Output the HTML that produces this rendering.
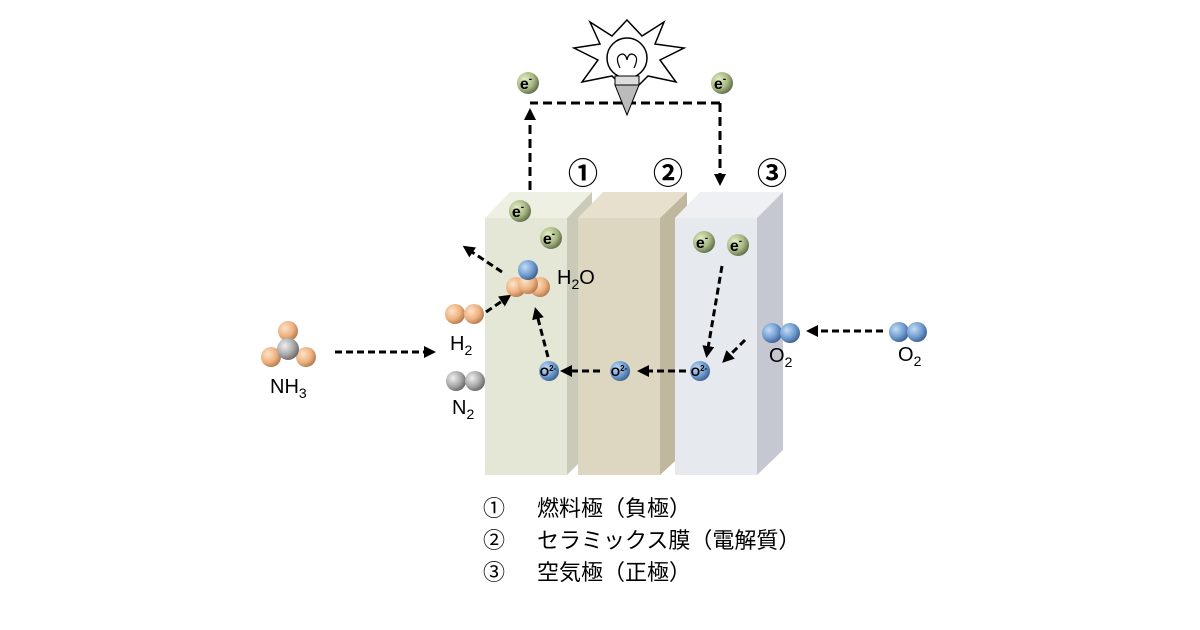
<!DOCTYPE html>
<html><head><meta charset="utf-8"><style>
html,body{margin:0;padding:0;background:#fff;width:1200px;height:630px;overflow:hidden}
svg{display:block}
text{font-family:"Liberation Sans","Noto Sans CJK JP",sans-serif}
</style></head><body>
<svg width="1200" height="630" viewBox="0 0 1200 630" xmlns="http://www.w3.org/2000/svg">
<defs>
<radialGradient id="ge" cx="0.35" cy="0.35" r="0.7"><stop offset="0" stop-color="#e8efc8"/><stop offset="0.6" stop-color="#a7b884"/><stop offset="1" stop-color="#5f6b45"/></radialGradient>
<radialGradient id="gb" cx="0.35" cy="0.35" r="0.7"><stop offset="0" stop-color="#c4dcf5"/><stop offset="0.6" stop-color="#6f9bd0"/><stop offset="1" stop-color="#3c5f8c"/></radialGradient>
<radialGradient id="go" cx="0.35" cy="0.35" r="0.7"><stop offset="0" stop-color="#fde3c8"/><stop offset="0.6" stop-color="#eeb17f"/><stop offset="1" stop-color="#b27a4e"/></radialGradient>
<radialGradient id="gg" cx="0.35" cy="0.35" r="0.7"><stop offset="0" stop-color="#f0f0f0"/><stop offset="0.6" stop-color="#a8a8a8"/><stop offset="1" stop-color="#666"/></radialGradient>
<marker id="ah" markerWidth="12" markerHeight="12" refX="8" refY="6" orient="auto" markerUnits="userSpaceOnUse"><path d="M0,0 L12,6 L0,12 Z" fill="#000"/></marker>
</defs>
<!-- slabs -->
<polygon points="485,218 510,192 592,192 567,218" fill="#eef0e4"/>
<polygon points="567,218 592,192 592,450 567,475" fill="#c9cbb8"/>
<rect x="485" y="218" width="82" height="257" fill="#e4e6d6"/>
<polygon points="578,218 603,192 687,192 660,218" fill="#e6e0cc"/>
<polygon points="660,218 687,192 687,450 660,475" fill="#bfb89f"/>
<rect x="578" y="218" width="82" height="257" fill="#ddd6c0"/>
<polygon points="675,218 700,192 783,192 757,218" fill="#eef0f3"/>
<polygon points="757,218 783,192 783,450 757,475" fill="#c5c8d0"/>
<rect x="675" y="218" width="82" height="257" fill="#e6e9ee"/>
<!-- circled numbers -->
<text x="583" y="184" font-size="30" text-anchor="middle" font-weight="bold">①</text>
<text x="668" y="184" font-size="30" text-anchor="middle" font-weight="bold">②</text>
<text x="772" y="184" font-size="30" text-anchor="middle" font-weight="bold">③</text>
<!-- circuit -->
<g stroke="#000" stroke-width="3" stroke-dasharray="9,5" fill="none">
<path d="M720,103 L530,103"/>
<path d="M530,190 L530,112" marker-end="url(#ah)"/>
<path d="M720,103 L720,182" marker-end="url(#ah)"/>
</g>
<!-- bulb -->
<polygon points="627,20 642,36 664,22 655,44 684,48 660,60 676,82 648,76 630,94 612,76 582,82 598,60 574,48 600,44 590,22 612,36" fill="#fff" stroke="#000" stroke-width="1.5"/>
<circle cx="627" cy="58" r="20" fill="#fff" stroke="#000" stroke-width="1.5"/>
<path d="M620,68 q-6,-12 2,-14 q4,0 5,6 q1,-6 5,-6 q8,2 2,14" fill="none" stroke="#000" stroke-width="1.2"/>
<rect x="615" y="76" width="24" height="9" fill="#ddd" stroke="#000"/>
<polygon points="615,85 639,85 627,115" fill="#bbb" stroke="#000"/>
<!-- electrons -->
<g font-size="16" font-weight="bold" text-anchor="middle">
<circle cx="528" cy="83" r="11" fill="url(#ge)"/><text x="526" y="89">e<tspan font-size="10" dy="-7">-</tspan></text>
<circle cx="722" cy="83" r="11" fill="url(#ge)"/><text x="720" y="89">e<tspan font-size="10" dy="-7">-</tspan></text>
<circle cx="520" cy="211" r="11" fill="url(#ge)"/><text x="518" y="217">e<tspan font-size="10" dy="-7">-</tspan></text>
<circle cx="551" cy="238" r="11" fill="url(#ge)"/><text x="549" y="244">e<tspan font-size="10" dy="-7">-</tspan></text>
<circle cx="704" cy="242" r="11" fill="url(#ge)"/><text x="702" y="248">e<tspan font-size="10" dy="-7">-</tspan></text>
<circle cx="738" cy="245" r="11" fill="url(#ge)"/><text x="736" y="251">e<tspan font-size="10" dy="-7">-</tspan></text>
</g>
<!-- arrows inside -->
<g stroke="#000" stroke-width="3" stroke-dasharray="7,4" fill="none">
<path d="M502,272 L466,248" marker-end="url(#ah)"/>
<path d="M486,312 L508,297" marker-end="url(#ah)"/>
<path d="M548,357 L536,311" marker-end="url(#ah)"/>
<path d="M600,371 L564,371" marker-end="url(#ah)"/>
<path d="M686,371 L641,371" marker-end="url(#ah)"/>
<path d="M722,266 L707,354" marker-end="url(#ah)"/>
<path d="M745,340 L725,360" marker-end="url(#ah)"/>
<path d="M883,331 L810,331" marker-end="url(#ah)"/>
<path d="M335,352 L432,352" marker-end="url(#ah)"/>
</g>
<!-- O2- ions -->
<g font-size="12" font-weight="bold" text-anchor="middle">
<circle cx="549" cy="371" r="10" fill="url(#gb)"/><text x="548" y="376">O<tspan font-size="8" dy="-5">2-</tspan></text>
<circle cx="620" cy="371" r="10" fill="url(#gb)"/><text x="619" y="376">O<tspan font-size="8" dy="-5">2-</tspan></text>
<circle cx="700" cy="371" r="10" fill="url(#gb)"/><text x="699" y="376">O<tspan font-size="8" dy="-5">2-</tspan></text>
</g>
<!-- H2O -->
<circle cx="516" cy="287" r="10" fill="url(#go)"/>
<circle cx="540" cy="287" r="10" fill="url(#go)"/>
<circle cx="528" cy="284" r="10" fill="url(#go)"/>
<circle cx="528" cy="270" r="10" fill="url(#gb)"/>
<text x="557" y="284" font-size="20">H<tspan font-size="14" dy="5">2</tspan><tspan dy="-5">O</tspan></text>
<!-- H2 -->
<circle cx="455" cy="314" r="10" fill="url(#go)"/><circle cx="474" cy="314" r="10" fill="url(#go)"/>
<text x="450" y="350" font-size="20">H<tspan font-size="14" dy="5">2</tspan></text>
<!-- N2 -->
<circle cx="456" cy="381" r="10" fill="url(#gg)"/><circle cx="475" cy="381" r="10" fill="url(#gg)"/>
<text x="452" y="414" font-size="20">N<tspan font-size="14" dy="5">2</tspan></text>
<!-- NH3 -->
<circle cx="288" cy="331" r="10" fill="url(#go)"/>
<circle cx="271" cy="357" r="10" fill="url(#go)"/>
<circle cx="306" cy="357" r="10" fill="url(#go)"/>
<circle cx="288" cy="349" r="11" fill="url(#gg)"/>
<text x="270" y="393" font-size="20">NH<tspan font-size="14" dy="5">3</tspan></text>
<!-- O2 -->
<circle cx="772" cy="333" r="10" fill="url(#gb)"/><circle cx="790" cy="333" r="10" fill="url(#gb)"/>
<text x="769" y="362" font-size="20">O<tspan font-size="14" dy="5">2</tspan></text>
<circle cx="899" cy="332" r="10" fill="url(#gb)"/><circle cx="917" cy="332" r="10" fill="url(#gb)"/>
<text x="898" y="361" font-size="20">O<tspan font-size="14" dy="5">2</tspan></text>
<!-- legend -->
<g font-size="22">
<text x="483" y="516">①</text><text x="537" y="516">燃料極（負極）</text>
<text x="483" y="548">②</text><text x="537" y="548">セラミックス膜（電解質）</text>
<text x="483" y="580">③</text><text x="537" y="580">空気極（正極）</text>
</g>
</svg>
</body></html>
